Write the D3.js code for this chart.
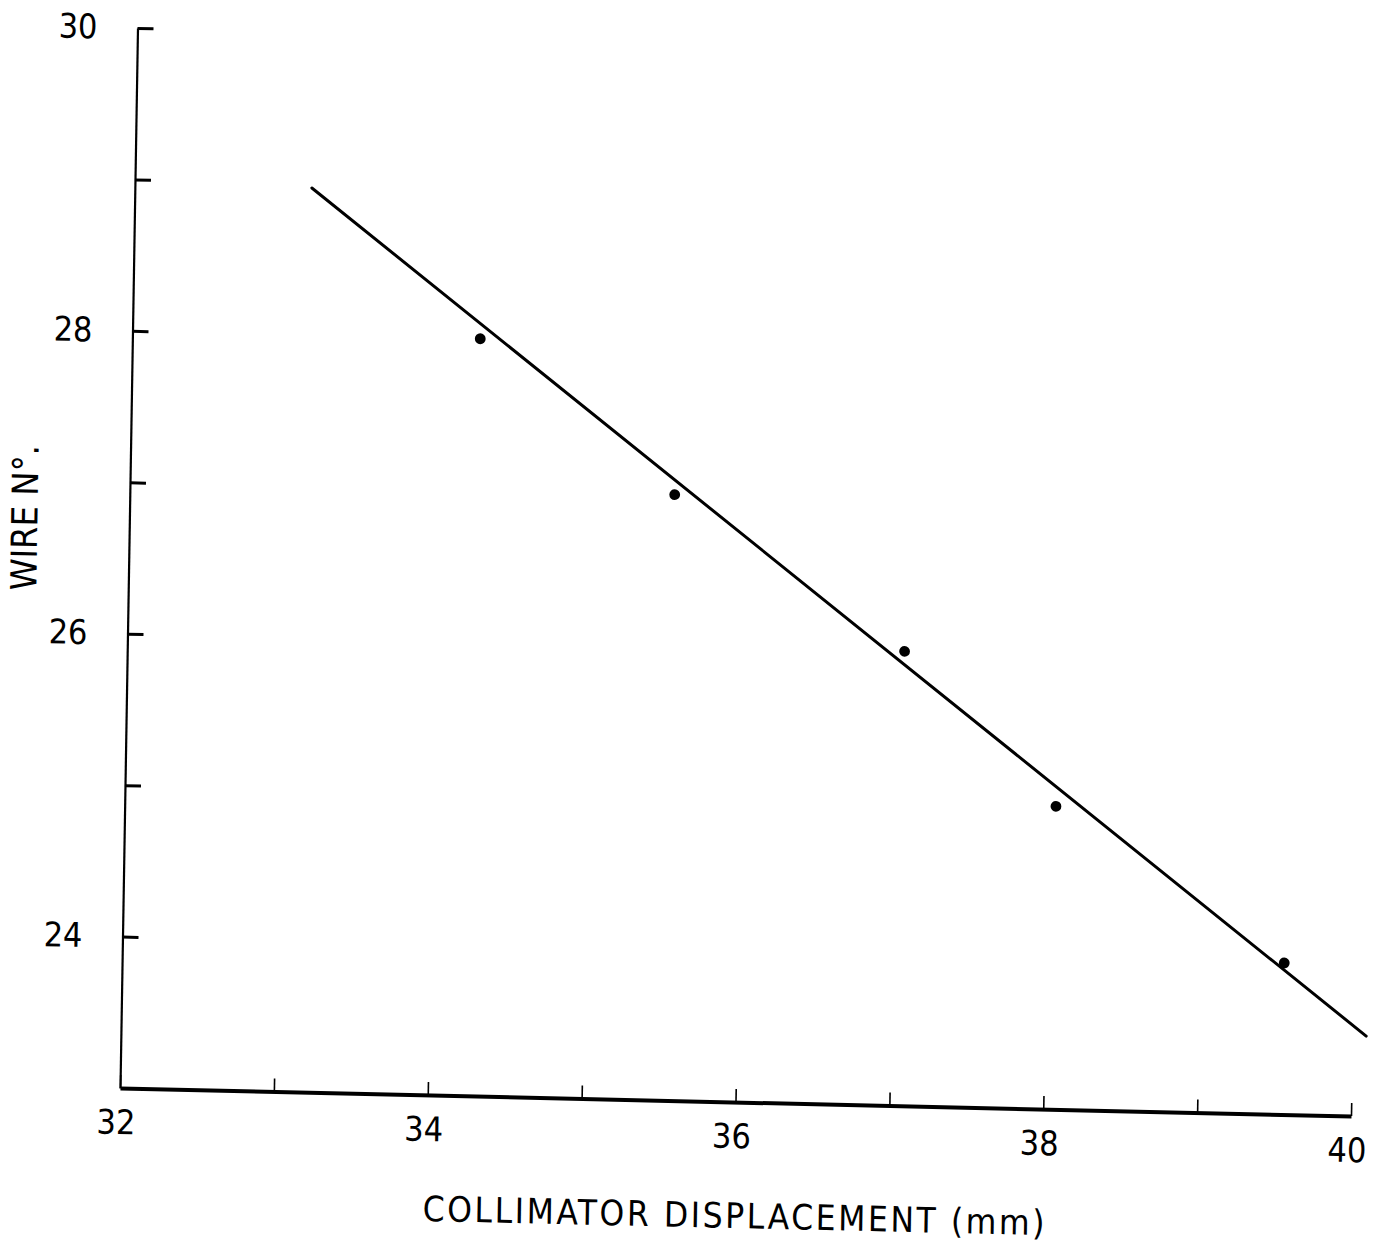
<!DOCTYPE html>
<html>
<head>
<meta charset="utf-8">
<script src="https://cdn.jsdelivr.net/npm/d3@7/dist/d3.min.js"></script>
<style>
  html, body { margin: 0; padding: 0; background: #fff; }
  svg { display: block; }
  text { font-family: "Liberation Sans Narrow", "DejaVu Sans Condensed", "Liberation Sans", sans-serif; fill: #000; }
</style>
</head>
<body>
<svg id="chart" width="1375" height="1243"></svg>
<script>
// Measured wire positions
const collimatorMm = [34.26, 35.54, 37.05, 38.05, 39.55];
const wireNo = [28, 27, 26, 25, 24];

// Straight-line fit endpoints
const fitMm = [33.15, 40.09];
const fitWire = [28.97, 23.53];

// Axis ticks and labels
const xTickValues = [32, 33, 34, 35, 36, 37, 38, 39, 40];
const xTickLabels = ["32", "", "34", "", "36", "", "38", "", "40"];
const yTickValues = [24, 25, 26, 27, 28, 29, 30];
const yTickLabels = ["24", "", "26", "", "28", "", "30"];

const xTitle = "COLLIMATOR  DISPLACEMENT (mm)";
const yTitle = "WIRE N\u00B0.";

const W = 1231, H = 1060;

const svg = d3.select("#chart");
// the plotted sheet sits slightly skewed on the page
const g = svg.append("g")
  .attr("transform", "matrix(1,0.02275,-0.01651,1,137.5,28)");

const x = d3.scaleLinear().domain([32, 40]).range([0, W]);
const y = d3.scaleLinear().domain([23, 30]).range([H, 0]);

// x axis: ticks point up into the plot
const xAxis = d3.axisBottom(x)
  .tickValues(xTickValues)
  .tickFormat((d, i) => xTickLabels[i])
  .tickSizeInner(-13)
  .tickSizeOuter(0)
  .tickPadding(22);

const gx = g.append("g").attr("transform", `translate(0,${H})`).call(xAxis);
gx.select(".domain").attr("stroke", "#000").attr("stroke-width", 4);
gx.selectAll(".tick line").attr("stroke", "#000").attr("stroke-width", 1.6);
gx.selectAll(".tick text")
  .attr("font-size", 34)
  .attr("dx", -4);

// y axis: ticks point right into the plot
const yAxis = d3.axisLeft(y)
  .tickValues(yTickValues)
  .tickFormat((d, i) => yTickLabels[i])
  .tickSizeInner(-16)
  .tickSizeOuter(0)
  .tickPadding(40);

const gy = g.append("g").call(yAxis);
gy.select(".domain").attr("stroke", "#000").attr("stroke-width", 2.2);
gy.selectAll(".tick line").attr("stroke", "#000").attr("stroke-width", 3);
gy.selectAll(".tick text").attr("font-size", 34);
g.selectAll(".tick text").attr("fill", "#000");
g.selectAll("g").attr("font-family", null);

// fitted line
const line = d3.line().x(d => x(d[0])).y(d => y(d[1]));
g.append("path")
  .datum(d3.zip(fitMm, fitWire))
  .attr("d", line)
  .attr("fill", "none")
  .attr("stroke", "#000")
  .attr("stroke-width", 3)
  .attr("stroke-linecap", "round");

// measured points
g.selectAll("circle.pt")
  .data(d3.zip(collimatorMm, wireNo))
  .join("circle")
  .attr("class", "pt")
  .attr("cx", d => x(d[0]))
  .attr("cy", d => y(d[1]))
  .attr("r", 5.4)
  .attr("fill", "#000");

// axis titles
g.append("text")
  .attr("x", W / 2)
  .attr("y", H + 126)
  .attr("text-anchor", "middle")
  .attr("font-size", 35)
  .attr("textLength", 622)
  .attr("lengthAdjust", "spacing")
  .text(xTitle);

g.append("text")
  .attr("transform", `translate(-92,${y(26.75)}) rotate(-90)`)
  .attr("text-anchor", "middle")
  .attr("font-size", 36)
  .text(yTitle);
</script>
</body>
</html>
